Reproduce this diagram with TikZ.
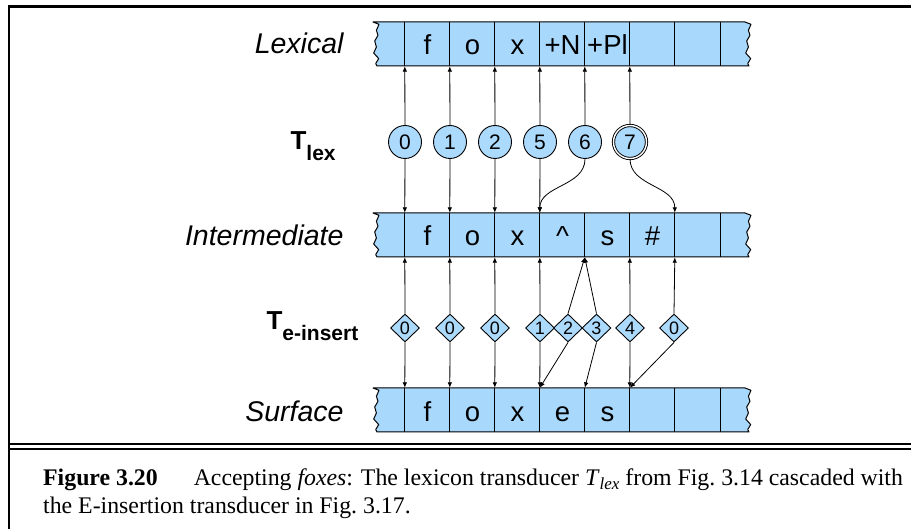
\documentclass[tikz,border=0pt]{standalone}
\usepackage{fontspec}
\setmainfont{Liberation Serif}
\newfontfamily\sansf{Liberation Sans}
\usetikzlibrary{arrows.meta,shapes.geometric}
\definecolor{tapeblue}{RGB}{168,216,252}
\definecolor{stateblue}{RGB}{172,218,252}
\newcommand\tapebg[1]{%
  \filldraw[fill=tapeblue, draw=black, line width=1pt, line join=round]
    (373,#1) -- (745,#1) -- (751,#1+2.3) -- (748.4,#1+8.3) -- (750,#1+13.3)
    -- (746.7,#1+19) -- (748.4,#1+25) -- (745.7,#1+31) -- (750.7,#1+36.6)
    -- (747.7,#1+41.6) -- (749,#1+44) -- (377,#1+44) -- (375.7,#1+41.6)
    -- (378.7,#1+36.6) -- (373.7,#1+31) -- (376.4,#1+25) -- (374.7,#1+19)
    -- (378,#1+13.3) -- (376.4,#1+8.3) -- (379,#1+2.3) -- cycle;}
\tikzset{
  cell/.style={minimum width=45pt, minimum height=44pt, inner sep=0pt,
    text height=22pt, text depth=0pt, font=\sansf\fontsize{27.5}{27.5}\selectfont},
  state/.style={circle, draw, line width=0.9pt, fill=stateblue, minimum size=33pt,
    inner sep=0pt, font=\sansf\fontsize{21}{21}\selectfont},
  accept/.style={state, double=white, double distance=1.4pt},
  dia/.style={diamond, draw, line width=0.9pt, fill=stateblue, minimum width=29pt,
    minimum height=28pt, inner sep=0pt, font=\sansf\fontsize{18}{18}\selectfont},
  arr/.style={-{Latex[length=5.5pt,width=4.5pt]}, line width=0.8pt},
  divider/.style={line width=1.1pt},
  lab/.style={font=\sansf\itshape\fontsize{28.5}{28.5}\selectfont, anchor=base east},
  tlab/.style={font=\sansf\bfseries\fontsize{26}{26}\selectfont, anchor=base west},
}
\newcommand\subsc[1]{\raisebox{-11pt}{\fontsize{21}{21}\selectfont #1}}
\begin{document}
\begin{tikzpicture}[x=1pt, y=-1pt]
\useasboundingbox (0,0) rectangle (911,529);
% frame
\draw[line width=2.5pt] (8,6.3) -- (911,6.3);
\draw[line width=2.5pt] (9.2,5) -- (9.2,529);
\draw[line width=2.3pt] (9,444.3) -- (911,444.3);
\draw[line width=1.7pt] (9,449.2) -- (911,449.2);
% tapes
\tapebg{22}
\tapebg{213}
\tapebg{388}
% cells
\foreach \t [count=\i] in {f,o,x,+N,+Pl,{},{}}
  \node[cell] (L\i) at (382.5+45*\i,44) {\t};
\foreach \t [count=\i] in {f,o,x,\textasciicircum,s,\#,{}}
  \node[cell] (I\i) at (382.5+45*\i,235) {\t};
\foreach \t [count=\i] in {f,o,x,e,s,{},{}}
  \node[cell] (S\i) at (382.5+45*\i,410) {\t};
\foreach \p in {L,I,S}{
  \foreach \i in {1,...,7}
    \draw[divider] (\p\i.north west) -- (\p\i.south west);
  \draw[divider] (\p7.north east) -- (\p7.south east);
}
% labels
\node[lab] (lexlab) at (347,54) {Lexical};
\node[lab] (intlab) at (347,246) {Intermediate};
\node[lab] (surlab) at (347,421) {Surface};
\node[tlab] (tlex) at (287,150) {T\subsc{lex}};
\node[tlab] (tins) at (263,330) {T\subsc{e-insert}};
% T_lex states
\node[state] (c0) at (405,142) {0};
\node[state] (c1) at (450,142) {1};
\node[state] (c2) at (495,142) {2};
\node[state] (c5) at (540,142) {5};
\node[state] (c6) at (585,142) {6};
\node[accept] (c7) at (630,142) {7};
\draw[arr] (c0) -- (L1.south west);
\draw[arr] (c1) -- (L2.south west);
\draw[arr] (c2) -- (L3.south west);
\draw[arr] (c5) -- (L4.south west);
\draw[arr] (c6) -- (L5.south west);
\draw[arr] (c7) -- (L6.south west);
\draw[arr] (c0) -- (I1.north west);
\draw[arr] (c1) -- (I2.north west);
\draw[arr] (c2) -- (I3.north west);
\draw[arr] (c5) -- (I4.north west);
\draw[arr] (c6.south) to[out=-90, in=90] (I4.north west);
\draw[arr] (c7.south) to[out=-90, in=90] (I7.north west);
% T_e-insert states
\node[dia] (d1) at (405,328) {0};
\node[dia] (d2) at (450,328) {0};
\node[dia] (d3) at (495,328) {0};
\node[dia] (d4) at (540,328) {1};
\node[dia] (d5) at (568,328) {2};
\node[dia] (d6) at (596.5,328) {3};
\node[dia] (d7) at (630,328) {4};
\node[dia] (d8) at (674,328) {0};
\draw[arr] (d1.north) -- (I1.south west);
\draw[arr] (d2.north) -- (I2.south west);
\draw[arr] (d3.north) -- (I3.south west);
\draw[arr] (d4.north) -- (I4.south west);
\draw[arr] (d5.north) -- (I5.south west);
\draw[arr] (d6.north) -- (I5.south west);
\draw[arr] (d7.north) -- (I6.south west);
\draw[arr] (d8.north) -- (I7.south west);
\draw[arr] (d1.south) -- (S1.north west);
\draw[arr] (d2.south) -- (S2.north west);
\draw[arr] (d3.south) -- (S3.north west);
\draw[arr] (d4.south) -- (S4.north west);
\draw[arr] (d5.south) -- (S4.north west);
\draw[arr] (d6.south) -- (S5.north west);
\draw[arr] (d7.south) -- (S6.north west);
\draw[arr] (d8.south) -- (S6.north west);
% caption
\node[anchor=base west, inner sep=0pt, font=\fontsize{23.8}{28}\selectfont] (cap1) at (43,485)
  {\textbf{Figure 3.20}\hspace*{36pt}Accepting \textit{foxes}: The lexicon transducer \textit{T}\raisebox{-5pt}{\fontsize{17}{17}\selectfont\itshape lex} from Fig.~3.14 cascaded with};
\node[anchor=base west, inner sep=0pt, font=\fontsize{23.8}{28}\selectfont] (cap2) at (43,513)
  {the E-insertion transducer in Fig.~3.17.};
\end{tikzpicture}
\end{document}
